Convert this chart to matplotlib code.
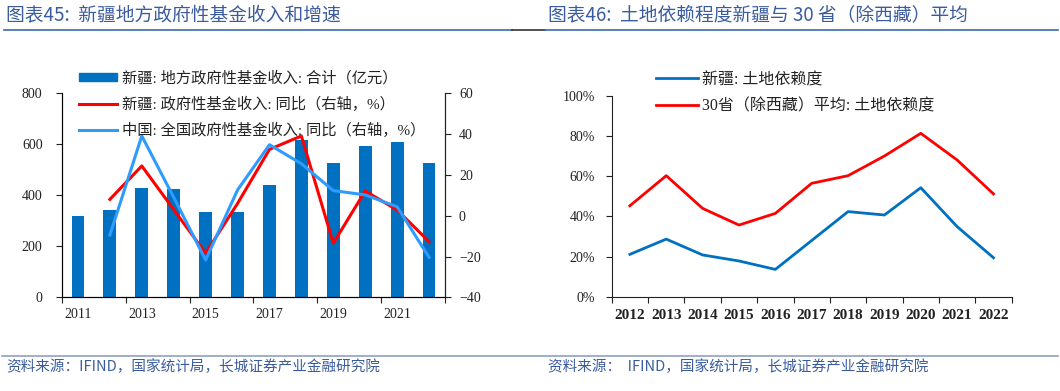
import numpy as np
import matplotlib
matplotlib.use("Agg")
import matplotlib.pyplot as plt
from matplotlib.lines import Line2D
from matplotlib.patches import Patch

plt.rcParams['font.family'] = ['Liberation Serif', 'Noto Sans CJK SC']

# ---- left chart data ----
years_l = [2011, 2012, 2013, 2014, 2015, 2016, 2017, 2018, 2019, 2020, 2021, 2022]
revenue = [319, 342, 427, 425, 333, 333, 440, 617, 525, 593, 608, 528]
xj_yoy = [np.nan, 8, 24.4, 3, -18.4, 6, 32.5, 39.1, -13.5, 12.1, 2.8, -12.7]
cn_yoy = [np.nan, -9.5, 39.1, 9, -21.7, 12.6, 34.8, 25.5, 12.3, 10.2, 4.4, -20.4]

# ---- right chart data ----
years_r = [2012, 2013, 2014, 2015, 2016, 2017, 2018, 2019, 2020, 2021, 2022]
xj_dep = [21.1, 28.7, 20.8, 17.8, 13.6, 28.0, 42.4, 40.7, 54.3, 34.9, 19.4]
avg_dep = [45.3, 60.3, 44.0, 35.7, 41.5, 56.5, 60.3, 70.1, 81.4, 68.1, 51.2]

bar_blue = '#0070C0'
light_blue = '#2E9BFF'
red = '#FF0000'
title_blue = '#3A5C9E'
text_col = '#222222'

fig = plt.figure(figsize=(10.6, 3.91), dpi=100)
W, H = 1060, 391


def fx(px):
    return px / W


def fy(py):
    return 1 - py / H


# ---------------- left chart ----------------
ax1 = fig.add_axes([fx(62), fy(297.3), fx(383), 204 / H])
x = np.arange(len(years_l))
ax1.bar(x, revenue, width=0.4, color=bar_blue, zorder=2)
ax1.set_xlim(-0.5, len(years_l) - 0.5)
ax1.set_ylim(0, 800)
ax1.set_yticks([0, 200, 400, 600, 800])
ax1.set_xticks(np.arange(-0.5, len(years_l), 2))
ax1.set_xticklabels([])
ax1.set_xticks(x[::2], minor=True)
ax1.set_xticklabels([str(y) for y in years_l[::2]], minor=True)
ax1.tick_params(axis='x', which='minor', length=0, pad=8, labelsize=10, colors=text_col)
ax1.tick_params(axis='x', which='major', length=4, direction='out', color=text_col)
ax1.tick_params(axis='y', length=4, direction='out', labelsize=10, colors=text_col, pad=10)
ax1.spines['top'].set_visible(False)
for s in ['left', 'bottom', 'right']:
    ax1.spines[s].set_color(text_col)

ax2 = ax1.twinx()
ax2.plot(x, xj_yoy, color=red, lw=2.2, zorder=3)
ax2.plot(x, cn_yoy, color=light_blue, lw=2.2, zorder=3)
ax2.set_ylim(-40, 60)
ax2.set_yticks([-40, -20, 0, 20, 40, 60])
ax2.set_yticklabels(['\u221240', '\u221220', '0', '20', '40', '60'])
ax2.tick_params(axis='y', length=4, direction='out', labelsize=10, colors=text_col, pad=6)
ax2.spines['top'].set_visible(False)
ax2.spines['right'].set_color(text_col)

handles_l = [Patch(color=bar_blue), Line2D([], [], color=red, lw=2.2),
             Line2D([], [], color=light_blue, lw=2.2)]
labels_l = ['新疆: 地方政府性基金收入: 合计（亿元）',
            '新疆: 政府性基金收入: 同比（右轴，%）',
            '中国: 全国政府性基金收入: 同比（右轴，%）']
fig.legend(handles_l, labels_l, loc='upper left', bbox_to_anchor=(fx(79), fy(71)),
           frameon=False, fontsize=11, handlelength=2.5, handleheight=0.45,
           handletextpad=0.3, labelspacing=0.72, borderpad=0, borderaxespad=0,
           labelcolor=text_col)

# ---------------- right chart ----------------
ax3 = fig.add_axes([fx(611.7), fy(296.7), fx(400), 200.7 / H])
xr = np.arange(len(years_r))
ax3.plot(xr, xj_dep, color=bar_blue, lw=2.0, label='新疆: 土地依赖度')
ax3.plot(xr, avg_dep, color=red, lw=2.0, label='30省（除西藏）平均: 土地依赖度')
ax3.set_xlim(-0.5, len(years_r) - 0.5)
ax3.set_ylim(0, 100)
ax3.set_yticks([0, 20, 40, 60, 80, 100])
ax3.set_yticklabels([f'{v}%' for v in [0, 20, 40, 60, 80, 100]])
ax3.set_xticks(np.arange(-0.5, len(years_r), 1))
ax3.set_xticklabels([])
ax3.set_xticks(xr, minor=True)
ax3.set_xticklabels([str(y) for y in years_r], minor=True)
ax3.tick_params(axis='x', which='minor', length=0, pad=9, labelsize=11, colors=text_col)
ax3.tick_params(axis='x', which='major', length=4, direction='out', color=text_col)
ax3.tick_params(axis='y', length=4, direction='out', labelsize=10, colors=text_col, pad=8)
for lab in ax3.get_xticklabels(minor=True):
    lab.set_fontweight('bold')
ax3.spines['top'].set_visible(False)
ax3.spines['right'].set_visible(False)
for s in ['left', 'bottom']:
    ax3.spines[s].set_color(text_col)
fig.legend(*ax3.get_legend_handles_labels(), loc='upper left',
           bbox_to_anchor=(fx(656), fy(72)), frameon=False, fontsize=11.5,
           handlelength=2.6, handletextpad=0.3, labelspacing=0.65, borderpad=0,
           borderaxespad=0, labelcolor=text_col)

# ---------------- titles, rules, sources ----------------
fig.text(fx(6), fy(15), '图表45:  新疆地方政府性基金收入和增速', fontsize=13.5,
         color=title_blue, va='center', ha='left', style='italic',
         family=['Noto Sans CJK SC'])
fig.text(fx(548), fy(15), '图表46:  土地依赖程度新疆与 30 省（除西藏）平均', fontsize=13.5,
         color=title_blue, va='center', ha='left', style='italic',
         family=['Noto Sans CJK SC'])
fig.add_artist(Line2D([fx(4), fx(512)], [fy(29.5), fy(29.5)], color='#3A6AAE', lw=1.2))
fig.add_artist(Line2D([fx(512), fx(545)], [fy(29.5), fy(29.5)], color='#333333', lw=1.2))
fig.add_artist(Line2D([fx(545), fx(1058)], [fy(29.5), fy(29.5)], color='#3A6AAE', lw=1.2))
fig.add_artist(Line2D([fx(2), fx(1058)], [fy(355.5), fy(355.5)], color='#8FA2C4', lw=1.2))
fig.text(fx(6), fy(367), '资料来源：IFIND，国家统计局，长城证券产业金融研究院', fontsize=10.5,
         color=title_blue, va='center', ha='left', style='italic',
         family=['Noto Sans CJK SC'])
fig.text(fx(548), fy(367), '资料来源：  IFIND，国家统计局，长城证券产业金融研究院', fontsize=10.5,
         color=title_blue, va='center', ha='left', style='italic',
         family=['Noto Sans CJK SC'])

fig.savefig('out.png', dpi=100)
